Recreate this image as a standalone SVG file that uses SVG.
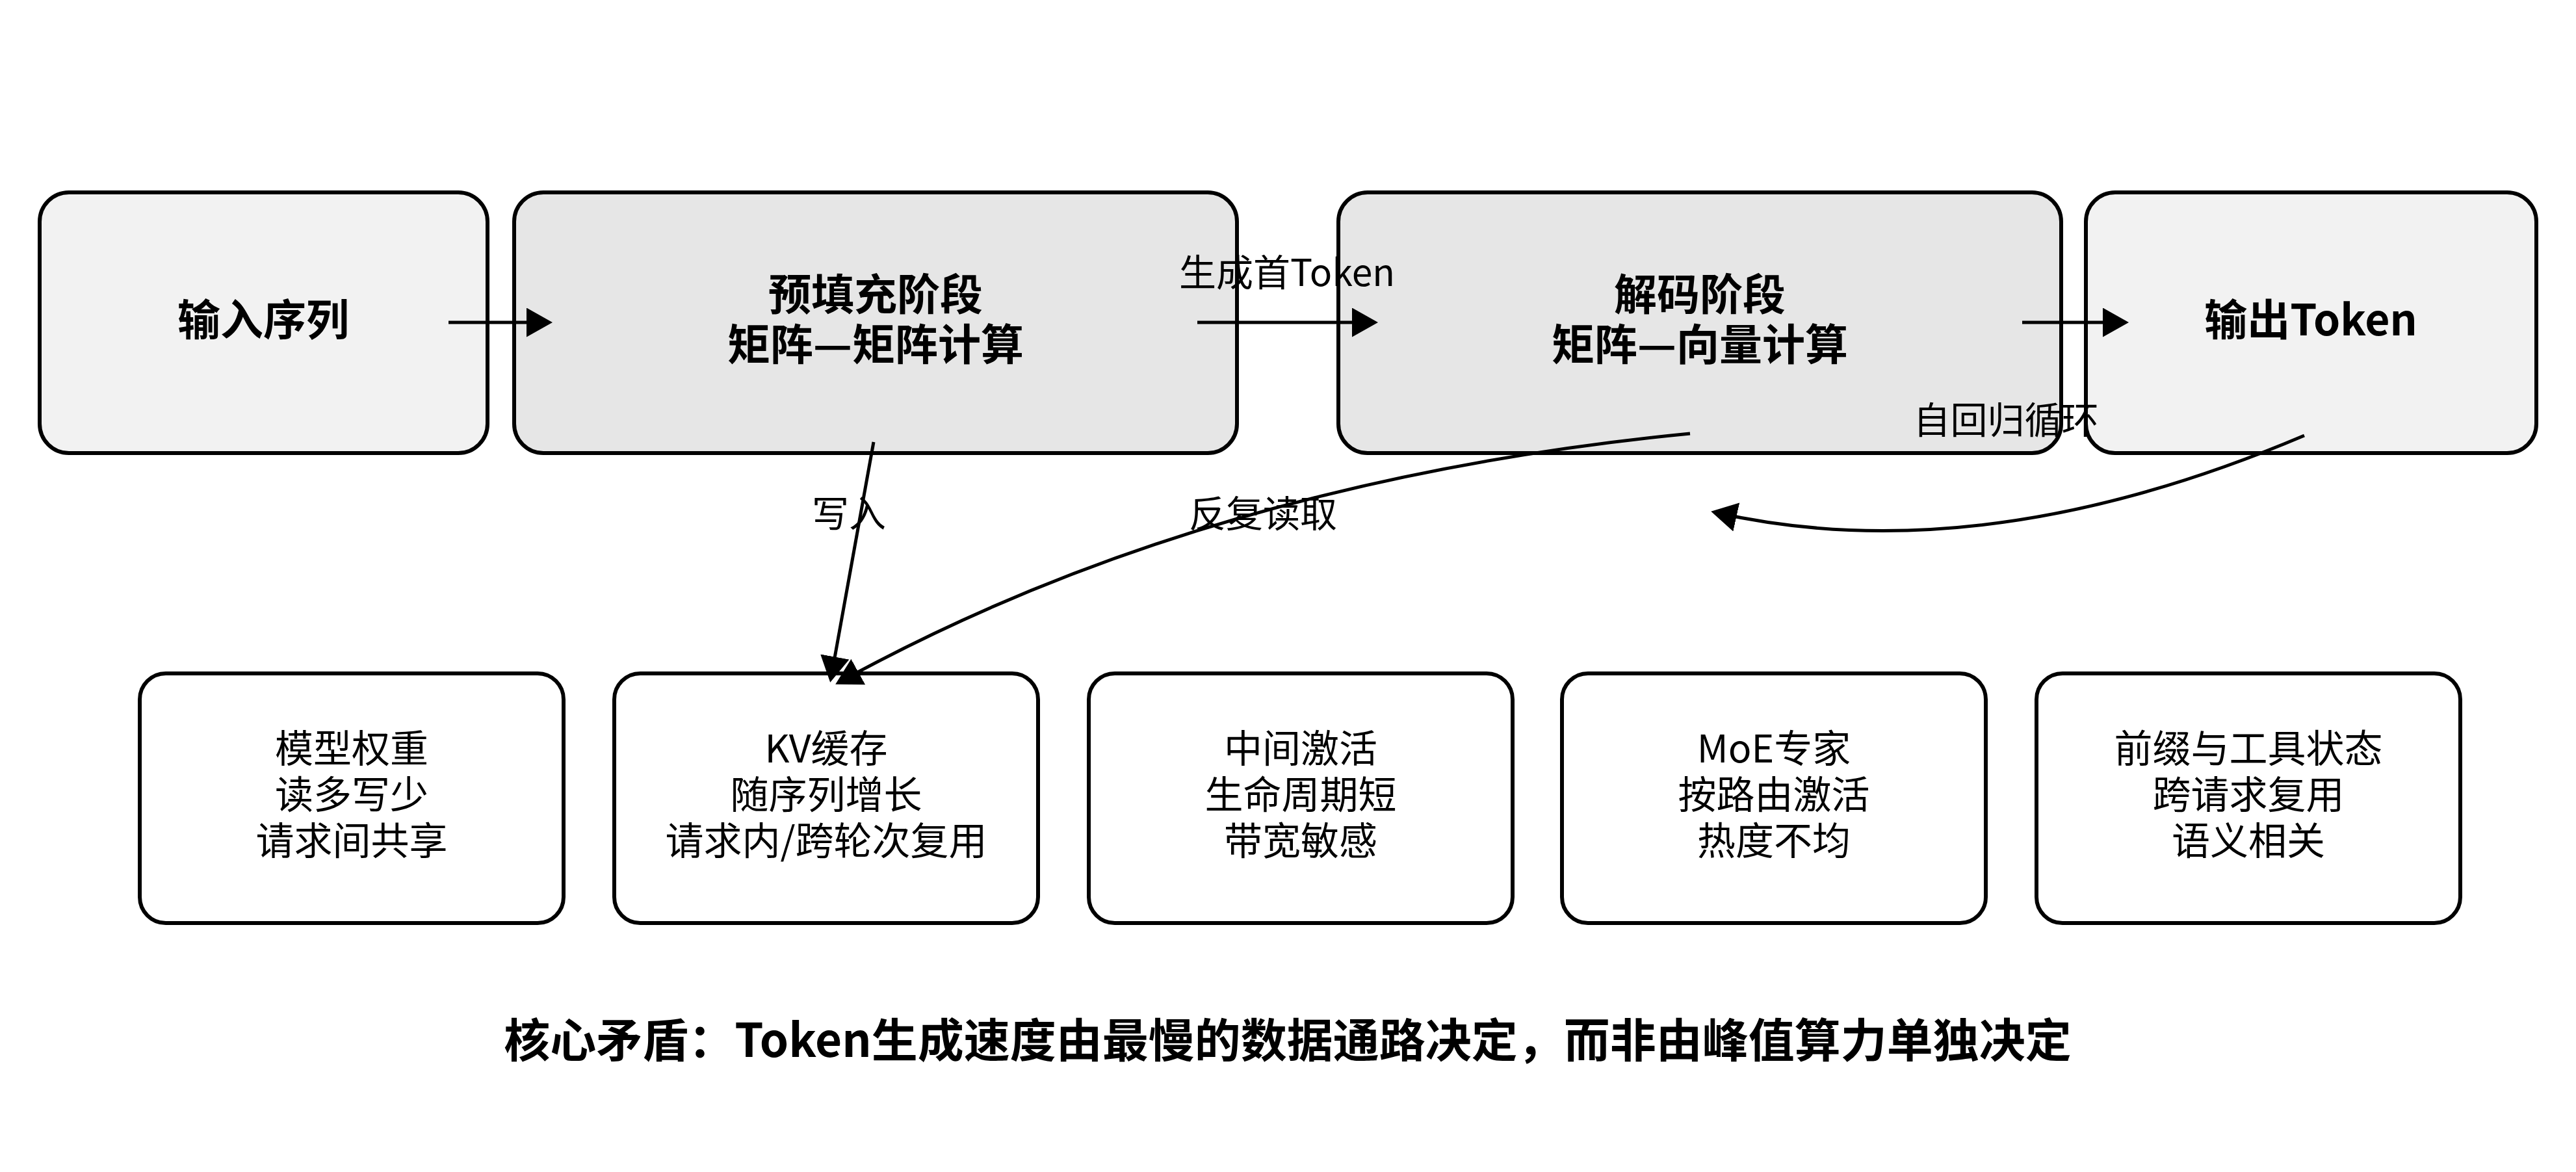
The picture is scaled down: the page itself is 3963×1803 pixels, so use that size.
<svg xmlns="http://www.w3.org/2000/svg" width="3963" height="1803" viewBox="0 0 3963 1803">
<style>
.b{stroke:#000;stroke-width:6}
text{font-family:"Noto Sans CJK SC","Liberation Sans",sans-serif;text-anchor:middle;fill:#000}
.t{font-size:66px;font-weight:bold}
.n{font-size:59px}
.l{font-size:57px}
.e{fill:none;stroke:#000;stroke-width:5}
</style>
<defs><marker id="a" markerWidth="9" markerHeight="9" refX="6" refY="4.5" orient="auto" markerUnits="strokeWidth"><path d="M0,0 L8,4.5 L0,9 Z" fill="#000"/></marker></defs>
<rect width="3963" height="1803" fill="#fff"/>
<g id="n1"><rect class="b" x="61" y="296" width="689" height="401" rx="45" fill="#f2f2f2"/><text class="t" x="405" y="516">输入序列</text></g>
<g id="n2"><rect class="b" x="791" y="296" width="1112" height="401" rx="45" fill="#e6e6e6"/><text class="t" x="1347" y="477">预填充阶段</text><text class="t" x="1347" y="554">矩阵—矩阵计算</text></g>
<g id="n3"><rect class="b" x="2059" y="296" width="1112" height="401" rx="45" fill="#e6e6e6"/><text class="t" x="2615" y="477">解码阶段</text><text class="t" x="2615" y="554">矩阵—向量计算</text></g>
<g id="n4"><rect class="b" x="3209" y="296" width="693" height="401" rx="45" fill="#f2f2f2"/><text class="t" x="3555" y="516">输出Token</text></g>
<g id="m1"><rect class="b" x="215" y="1036" width="652" height="384" rx="40" fill="#fff"/><text class="n" x="541" y="1173">模型权重</text><text class="n" x="541" y="1244">读多写少</text><text class="n" x="541" y="1315">请求间共享</text></g>
<g id="m2"><rect class="b" x="945" y="1036" width="652" height="384" rx="40" fill="#fff"/><text class="n" x="1271" y="1173">KV缓存</text><text class="n" x="1271" y="1244">随序列增长</text><text class="n" x="1271" y="1315">请求内/跨轮次复用</text></g>
<g id="m3"><rect class="b" x="1675" y="1036" width="652" height="384" rx="40" fill="#fff"/><text class="n" x="2001" y="1173">中间激活</text><text class="n" x="2001" y="1244">生命周期短</text><text class="n" x="2001" y="1315">带宽敏感</text></g>
<g id="m4"><rect class="b" x="2403" y="1036" width="652" height="384" rx="40" fill="#fff"/><text class="n" x="2729" y="1173">MoE专家</text><text class="n" x="2729" y="1244">按路由激活</text><text class="n" x="2729" y="1315">热度不均</text></g>
<g id="m5"><rect class="b" x="3133" y="1036" width="652" height="384" rx="40" fill="#fff"/><text class="n" x="3459" y="1173">前缀与工具状态</text><text class="n" x="3459" y="1244">跨请求复用</text><text class="n" x="3459" y="1315">语义相关</text></g>
<g id="edges">
<path class="e" d="M690,496 L840,496" marker-end="url(#a)"/>
<path class="e" d="M1842,496 L2110,496" marker-end="url(#a)"/>
<path class="e" d="M3111,496 L3265,496" marker-end="url(#a)"/>
<path class="e" d="M1344,680 L1279,1040" marker-end="url(#a)"/>
<path class="e" d="M2600,667 Q1854,740 1294,1048" marker-end="url(#a)"/>
<path class="e" d="M3545,670 Q3050,880 2642,789" marker-end="url(#a)"/>
<text class="l" x="1980" y="440">生成首Token</text>
<text class="l" x="1306" y="811">写入</text>
<text class="l" x="1943" y="811">反复读取</text>
<text class="l" x="3086" y="667">自回归循环</text>
</g>
<text x="1981" y="1626" style="font-size:71px;font-weight:bold">核心矛盾：Token生成速度由最慢的数据通路决定，而非由峰值算力单独决定</text>
</svg>
